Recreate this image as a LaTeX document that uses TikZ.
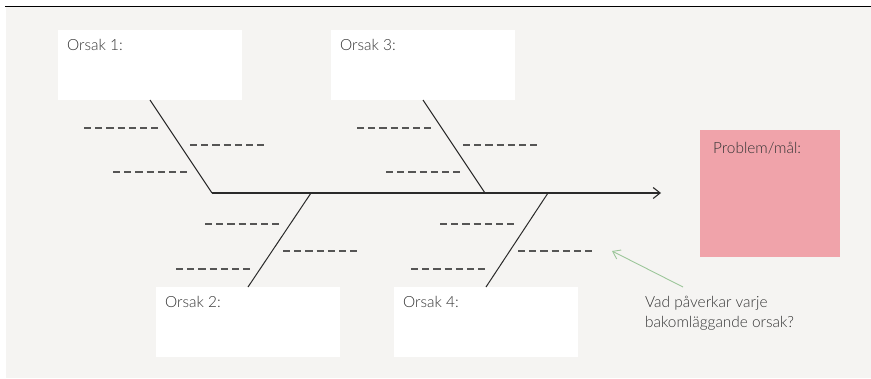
\documentclass[tikz,border=0pt]{standalone}
\usepackage{fontspec}
\setmainfont{Lato Light}
\usetikzlibrary{arrows.meta,calc}
\definecolor{bggray}{HTML}{F5F4F2}
\definecolor{pinkbox}{HTML}{F0A3AA}
\definecolor{txtgray}{HTML}{333333}
\definecolor{dashgray}{HTML}{555555}
\definecolor{linegray}{HTML}{2A2A2A}
\definecolor{hintgreen}{HTML}{9CC69A}
\tikzset{
  causebox/.style={fill=white, draw=none, minimum width=184pt, minimum height=70pt, inner sep=0pt, outer sep=0pt},
  probbox/.style={fill=pinkbox, draw=none, minimum width=140pt, minimum height=127pt, inner sep=0pt, outer sep=0pt},
  boxtitle/.style={font=\fontsize{15.4pt}{20pt}\selectfont, text=txtgray, inner sep=0pt, anchor=base west},
  bone/.style={draw=linegray, line width=1pt},
  spine/.style={draw=linegray, line width=1.2pt, -{Straight Barb[length=7pt,width=11pt,line width=1.1pt]}},
  subcause/.style={draw=dashgray, line width=1.4pt, dash pattern=on 7.2pt off 4pt},
  hint/.style={draw=hintgreen, line width=0.9pt, -{Straight Barb[length=7pt,width=10pt,line width=0.9pt]}},
}
\begin{document}
\begin{tikzpicture}[x=1pt,y=-1pt]
\useasboundingbox (0,0) rectangle (871,378);
\fill[white] (0,0) rectangle (871,378);
\fill[bggray] (6,7) rectangle (871,378);
\draw[black, line width=1.3pt] (5,6.5) -- (871,6.5);

% boxes
\node[causebox] (b1) at (150,65) {};
\node[causebox] (b3) at (423,65) {};
\node[causebox] (b2) at (248,322) {};
\node[causebox] (b4) at (486,322) {};
\node[probbox] (pm) at (770,193.5) {};

\node[boxtitle] (t1) at ($(b1.north west)+(9,20)$) {Orsak 1:};
\node[boxtitle] (t3) at ($(b3.north west)+(9,20)$) {Orsak 3:};
\node[boxtitle] (t2) at ($(b2.north west)+(9,20)$) {Orsak 2:};
\node[boxtitle] (t4) at ($(b4.north west)+(9,20)$) {Orsak 4:};
\node[boxtitle] (tp) at ($(pm.north west)+(13,23)$) {Problem/mål:};

% spine
\coordinate (s1) at (212,193);
\coordinate (s2) at (311,193);
\coordinate (s3) at (485,193);
\coordinate (s4) at (548,193);
\coordinate (head) at (661,193);
\draw[spine] (s1) -- (head);

% bones
\draw[bone] (b1.south) -- (s1);
\draw[bone] (b3.south) -- (s3);
\draw[bone] (b2.north) -- (s2);
\draw[bone] (b4.north) -- (s4);

% sub-cause dashes
\foreach \dx in {0,273}{
  \draw[subcause] (84+\dx,128) -- ++(76,0);
  \draw[subcause] (190+\dx,145) -- ++(76,0);
  \draw[subcause] (113+\dx,172) -- ++(76,0);
}
\foreach \dx in {0,235}{
  \draw[subcause] (205+\dx,224) -- ++(76,0);
  \draw[subcause] (283+\dx,251) -- ++(76,0);
  \draw[subcause] (176+\dx,269) -- ++(76,0);
}

% hint
\node[boxtitle, align=left, anchor=base west] (q) at (645,327) {Vad påverkar varje\\bakomläggande orsak?};
\coordinate (qs) at (683,287);
\coordinate (qt) at (612,251);
\draw[hint] (qs) -- (qt);
\end{tikzpicture}
\end{document}
